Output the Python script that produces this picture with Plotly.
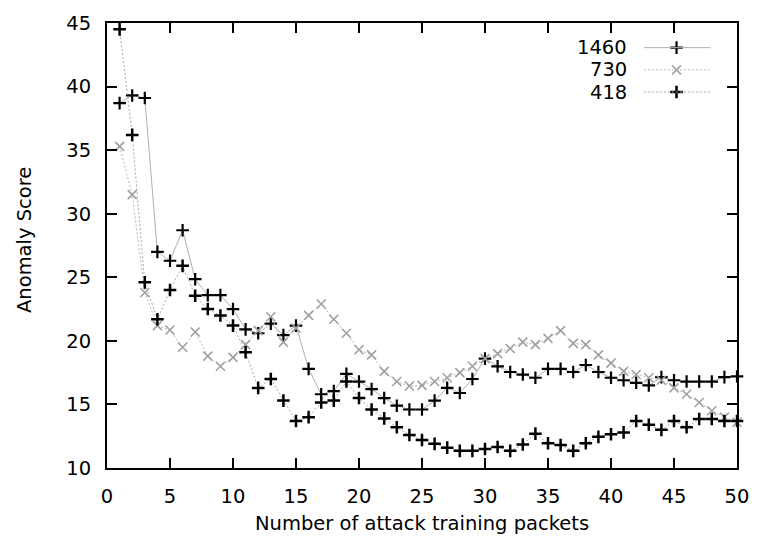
import plotly.graph_objects as go

# ---- data ----
packets = list(range(1, 51))

s1460 = [38.7, 39.3, 39.1, 27.0, 26.3, 28.7, 24.85, 23.6, 23.6, 22.5,
         20.9, 20.6, 21.35, 20.45, 21.2, 17.8, 15.8, 16.05, 17.4, 16.8,
         16.2, 15.5, 14.9, 14.6, 14.6, 15.3, 16.3, 15.9, 17.0, 18.6,
         18.0, 17.55, 17.35, 17.1, 17.8, 17.8, 17.55, 18.1, 17.55, 17.1,
         16.9, 16.7, 16.5, 17.15, 16.9, 16.8, 16.8, 16.8, 17.15, 17.2]

s730 = [35.3, 31.5, 23.8, 21.2, 20.85, 19.5, 20.7, 18.8, 18.0, 18.7,
        19.7, 20.8, 21.9, 19.9, 21.0, 22.0, 22.9, 21.7, 20.6, 19.3,
        18.9, 17.6, 16.8, 16.45, 16.5, 16.8, 17.1, 17.5, 18.0, 18.6,
        19.0, 19.4, 19.9, 19.7, 20.2, 20.8, 19.8, 19.7, 18.9, 18.25,
        17.6, 17.35, 17.1, 16.9, 16.3, 15.8, 15.15, 14.5, 14.0, 13.6]

s418 = [44.5, 36.2, 24.6, 21.7, 24.0, 25.9, 23.55, 22.5, 22.0, 21.2,
        19.1, 16.3, 17.0, 15.3, 13.7, 14.0, 15.15, 15.3, 16.8, 15.5,
        14.6, 13.9, 13.2, 12.6, 12.2, 11.9, 11.6, 11.35, 11.35, 11.5,
        11.65, 11.35, 11.85, 12.7, 11.95, 11.8, 11.35, 11.95, 12.45, 12.65,
        12.8, 13.7, 13.4, 13.0, 13.7, 13.2, 13.85, 13.85, 13.7, 13.7]

series_names = ["1460", "730", "418"]
x_ticks = [0, 5, 10, 15, 20, 25, 30, 35, 40, 45, 50]
y_ticks = [10, 15, 20, 25, 30, 35, 40, 45]

# ---- styles ----
FONT = "DejaVu Sans"
FS = 19.5
styles = {
    "1460": dict(line=dict(color="#b0b0b0", width=1),
                 marker=dict(symbol="cross-thin-open", size=9,
                             line=dict(color="black", width=2.2), color="black")),
    "730": dict(line=dict(color="#b4b4b4", width=1, dash="2px,2px"),
                marker=dict(symbol="x-thin-open", size=9,
                            line=dict(color="#a0a0a0", width=1.6), color="#a0a0a0")),
    "418": dict(line=dict(color="#a8a8a8", width=1, dash="2px,2px"),
                marker=dict(symbol="cross-thin-open", size=9,
                            line=dict(color="black", width=2.5), color="black")),
}

fig = go.Figure()
for name, ys in zip(series_names, [s1460, s730, s418]):
    st = styles[name]
    fig.add_trace(go.Scatter(x=packets, y=ys, mode="lines+markers", name=name,
                             line=st["line"], marker=st["marker"],
                             showlegend=False, cliponaxis=False))

# ---- custom gnuplot-style legend (text left, sample right) ----
leg_rows = [0.9446, 0.8947, 0.8448]
leg_text_x = 0.828
leg_line_x0, leg_line_x1 = 0.852, 0.958
leg_marker_x = 0.904
for name, ry in zip(series_names, leg_rows):
    st = styles[name]
    fig.add_annotation(x=leg_text_x, y=ry, xref="paper", yref="paper",
                       text=name, showarrow=False, xanchor="right", yanchor="middle",
                       font=dict(family=FONT, size=FS, color="black"))
    fig.add_shape(type="line", xref="paper", yref="paper",
                  x0=leg_line_x0, x1=leg_line_x1, y0=ry, y1=ry,
                  line=st["line"])
    fig.add_trace(go.Scatter(x=[leg_marker_x], y=[ry], xaxis="x2", yaxis="y2",
                             mode="markers", marker=st["marker"],
                             showlegend=False, hoverinfo="skip"))

# axis titles
fig.add_annotation(x=0.5, y=-0.124, xref="paper", yref="paper",
                   text="Number of attack training packets", showarrow=False,
                   xanchor="center", yanchor="middle",
                   font=dict(family=FONT, size=FS, color="black"))
fig.add_annotation(x=-0.132, y=0.512, xref="paper", yref="paper",
                   text="Anomaly Score", showarrow=False, textangle=-90,
                   xanchor="center", yanchor="middle",
                   font=dict(family=FONT, size=FS, color="black"))

axis_common = dict(showgrid=False, zeroline=False, showline=True,
                   linecolor="black", linewidth=2, mirror="ticks",
                   ticks="inside", ticklen=10, tickwidth=2, tickcolor="black",
                   tickfont=dict(family=FONT, size=FS, color="black"))

fig.update_layout(
    width=761, height=540,
    margin=dict(l=107, r=18, t=17, b=72),
    paper_bgcolor="white", plot_bgcolor="white",
    xaxis=dict(range=[0, 50], tickmode="array", tickvals=x_ticks,
               ticklabelstandoff=10, **axis_common),
    yaxis=dict(range=[10, 45], tickmode="array", tickvals=y_ticks,
               ticklabelstandoff=10, **axis_common),
    xaxis2=dict(range=[0, 1], overlaying="x", visible=False),
    yaxis2=dict(range=[0, 1], overlaying="y", visible=False),
    showlegend=False,
)

fig.write_html("out.html")
